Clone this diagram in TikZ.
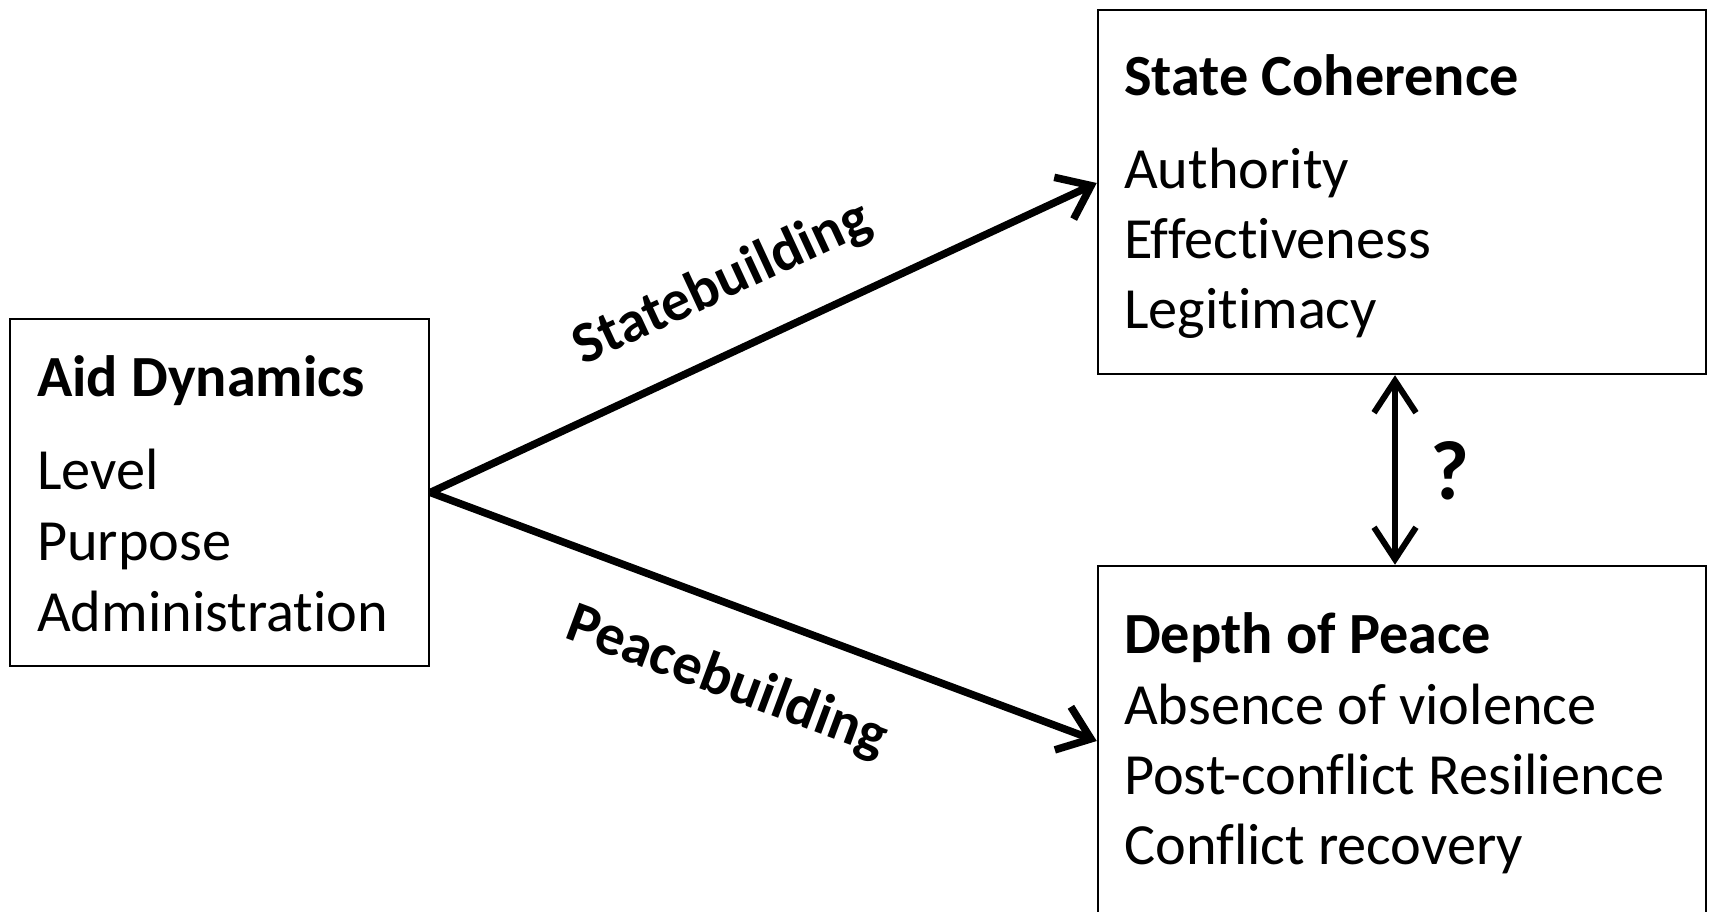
\documentclass[tikz,border=0pt]{standalone}
\usepackage{fontspec}
\setmainfont{Carlito}[Ligatures=NoCommon]
\usetikzlibrary{arrows.meta,calc}
\begin{document}
\begin{tikzpicture}[x=1pt,y=1pt,
  box/.style={draw, line width=2.5pt, rectangle, inner sep=0pt},
  txt/.style={anchor=base west, inner sep=0pt, font=\fontsize{58.3}{71}\selectfont},
  ttl/.style={anchor=base west, inner sep=0pt, font=\fontsize{58.3}{71}\selectfont\bfseries},
  lbl/.style={inner sep=0pt, font=\fontsize{58.3}{71}\selectfont\bfseries, sloped},
  flow/.style={line width=7.5pt, -{Straight Barb[length=30pt,width=46pt]}},
  both/.style={line width=6pt, {Straight Barb[length=32pt,width=42pt]}-{Straight Barb[length=32pt,width=42pt]}}]
\path[use as bounding box, clip] (0,0) rectangle (1709,911);
% boxes
\node[box, minimum width=419pt, minimum height=347pt] (aid) at (219.5,418.5) {};
\node[box, minimum width=608pt, minimum height=364pt] (state) at (1402,719) {};
\node[box, minimum width=608pt, minimum height=394pt] (peace) at (1402,148) {};
% texts
\node[ttl] (aidt) at (37,514) {Aid Dynamics};
\node[txt] (aid1) at (37,421) {Level};
\node[txt] (aid2) at (37,350) {Purpose};
\node[txt] (aid3) at (37,279) {Administration};
\node[ttl] (statet) at (1124,815) {State Coherence};
\node[txt] (state1) at (1124,722) {Authority};
\node[txt] (state2) at (1124,652) {Effectiveness};
\node[txt] (state3) at (1124,582) {Legitimacy};
\node[ttl] (peacet) at (1124,257) {Depth of Peace};
\node[txt] (peace1) at (1124,186) {Absence of violence};
\node[txt] (peace2) at (1124,116) {Post-conflict Resilience};
\node[txt] (peace3) at (1124,47) {Conflict recovery};
% connectors
\draw[flow] (aid.east) -- ([yshift=9pt]state.west)
  node[lbl, pos=0.48, above=37pt] (sb) {Statebuilding};
\draw[flow] (aid.east) -- ([yshift=22pt]peace.west)
  node[lbl, pos=0.484, below=45pt] (pb) {Peacebuilding};
\draw[both] ([xshift=-7pt]state.south) -- ([xshift=-7pt]peace.north);
\node[inner sep=0pt, font=\fontsize{84}{90}\selectfont\bfseries] (q) at (1450,440) {?};
\end{tikzpicture}
\end{document}
